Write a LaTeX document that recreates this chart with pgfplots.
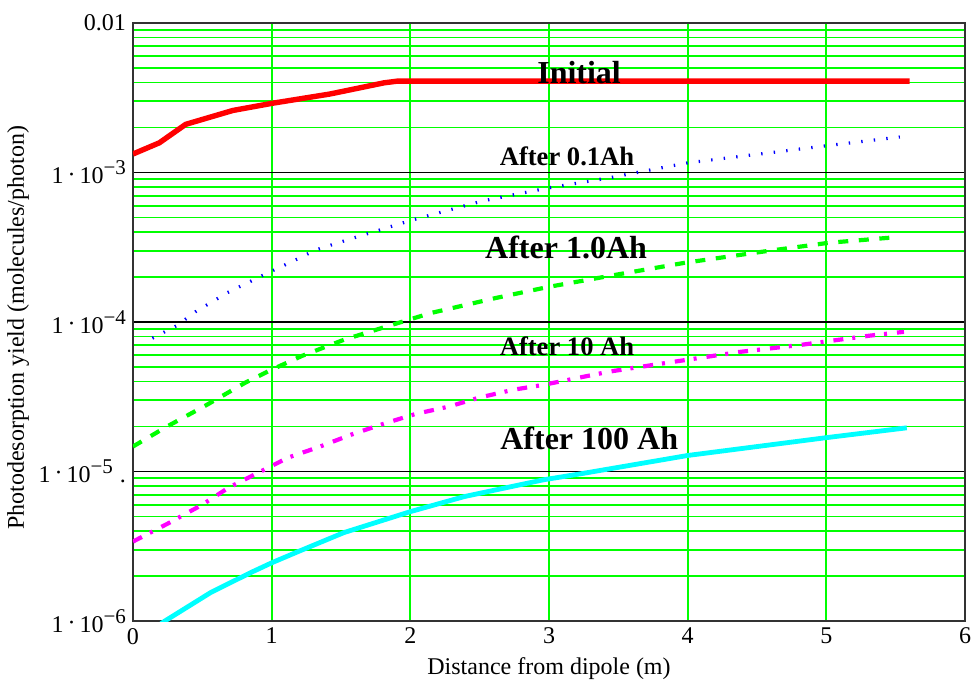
\documentclass[border=0pt]{standalone}
\usepackage{fontspec}
\setmainfont{Liberation Serif}
\usepackage{pgfplots}
\pgfplotsset{compat=1.18}
\definecolor{mlime}{RGB}{0,255,0}
\definecolor{mcyan}{RGB}{0,255,255}
\definecolor{mmag}{RGB}{255,0,255}
\definecolor{mblue}{RGB}{0,0,255}
\definecolor{mred}{RGB}{255,0,0}
\newcommand{\expl}[1]{1\,\raisebox{0.15ex}{·}\,10\raisebox{0.8ex}{\fontsize{10.5}{10}\selectfont −#1}}
\begin{document}
\begin{tikzpicture}
\begin{axis}[name=ax, scale only axis, width=416pt, height=299pt,
 xmin=0, xmax=6, ymode=log, ymin=1e-6, ymax=1e-2,
 xtick={0,1,2,3,4,5,6},
 ytick={1e-6,1e-5,1e-4,1e-3,1e-2},
 yticklabels={{\expl{6}\hspace{7pt}},{\expl{5}\hspace{3.5pt}.\hspace{2pt}},{\expl{4}\hspace{7pt}},{\expl{3}\hspace{7pt}},{0.01}},
 minor ytick={2e-6,3e-6,4e-6,5e-6,6e-6,7e-6,8e-6,9e-6,2e-5,3e-5,4e-5,5e-5,6e-5,7e-5,8e-5,9e-5,2e-4,3e-4,4e-4,5e-4,6e-4,7e-4,8e-4,9e-4,2e-3,3e-3,4e-3,5e-3,6e-3,7e-3,8e-3,9e-3},
 xmajorgrids, ymajorgrids, yminorgrids,
 major x grid style={mlime, line width=0.9pt},
 major y grid style={black, line width=0.7pt},
 minor y grid style={mlime, line width=0.9pt},
 major tick length=0pt, minor tick length=0pt,
 axis line style={line width=0.9pt, black!80},
 tick label style={font=\fontsize{12}{14}\selectfont},
 /pgf/number format/assume math mode=true,
 xlabel={Distance from dipole (m)},
 ylabel={Photodesorption yield (molecules/photon)},
 label style={font=\fontsize{12}{14}\selectfont},
 xlabel style={at={(axis description cs:0.5,-0.079)}, anchor=center},
 ylabel style={at={(axis description cs:-0.138,0.49)}, anchor=center},
]
% Initial
\addplot[mred, line width=2.7pt] coordinates {
(0,1.33e-3) (0.19,1.58e-3) (0.38,2.10e-3) (0.72,2.60e-3) (1.0,2.90e-3)
(1.42,3.35e-3) (1.81,3.98e-3) (1.91,4.09e-3) (5.6,4.09e-3)};
% After 0.1Ah
\addplot[mblue, line width=1.6pt, dash pattern=on 0.7pt off 5.6pt] coordinates {
(0.14,7.8e-5) (0.32,9.5e-5) (0.45,1.17e-4) (0.68,1.57e-4) (0.93,2.04e-4)
(1.16,2.57e-4) (1.32,3.04e-4) (1.57,3.6e-4) (2.01,4.8e-4) (2.52,6.45e-4)
(3.0,7.9e-4) (3.43,9.2e-4) (3.8,1.07e-3) (4.0,1.16e-3) (4.52,1.33e-3)
(5.0,1.51e-3) (5.53,1.73e-3)};
% After 1.0Ah
\addplot[mlime, line width=2.1pt, dash pattern=on 5pt off 5.3pt] coordinates {
(0,1.47e-5) (0.245,2.0e-5) (0.52,2.75e-5) (0.81,3.93e-5) (1.0,4.8e-5)
(1.22,5.94e-5) (1.52,7.6e-5) (1.84,9.4e-5) (2.15,1.15e-4) (2.62,1.45e-4)
(3.0,1.72e-4) (3.52,2.1e-4) (3.98,2.49e-4) (4.58,2.99e-4) (5.02,3.39e-4)
(5.53,3.71e-4)};
% After 10 Ah
\addplot[mmag, line width=2.1pt, dash pattern=on 5pt off 4.5pt on 1.5pt off 5pt] coordinates {
(0,3.4e-6) (0.25,4.48e-6) (0.5,6.0e-6) (0.69,7.8e-6) (0.92,1.0e-5)
(1.12,1.24e-5) (1.35,1.47e-5) (1.57,1.76e-5) (1.81,2.09e-5) (2.04,2.43e-5)
(2.28,2.72e-5) (2.49,3.11e-5) (2.74,3.52e-5) (2.96,3.8e-5) (3.43,4.65e-5)
(3.9,5.42e-5) (4.37,6.3e-5) (4.82,7.04e-5) (5.31,8.1e-5) (5.56,8.6e-5)};
% After 100 Ah
\addplot[mcyan, line width=2.4pt] coordinates {
(0,7.0e-7) (0.23,1.0e-6) (0.56,1.55e-6) (0.85,2.11e-6) (1.0,2.45e-6)
(1.19,2.91e-6) (1.52,3.9e-6) (2.0,5.39e-6) (2.39,6.8e-6) (2.96,8.8e-6)
(3.23,9.66e-6) (4.0,1.28e-5) (4.99,1.68e-5) (5.58,1.96e-5)};
\node[anchor=base, font=\fontsize{16}{18}\selectfont\bfseries] at (axis cs:3.217,3.97e-3) {Initial};
\node[anchor=base, font=\fontsize{13.3}{15}\selectfont\bfseries] at (axis cs:3.13,1.122e-3) {After 0.1Ah};
\node[anchor=base, font=\fontsize{16}{18}\selectfont\bfseries] at (axis cs:3.123,2.64e-4) {After 1.0Ah};
\node[anchor=base, font=\fontsize{13.3}{15}\selectfont\bfseries] at (axis cs:3.13,6.01e-5) {After 10 Ah};
\node[anchor=base, font=\fontsize{16}{18}\selectfont\bfseries] at (axis cs:3.29,1.393e-5) {After 100 Ah};
\end{axis}
\pgfresetboundingbox
\path ([shift={(-66.5pt,-31.5pt)}]ax.south west) rectangle ([shift={(4.5pt,11.5pt)}]ax.north east);
\end{tikzpicture}
\end{document}
